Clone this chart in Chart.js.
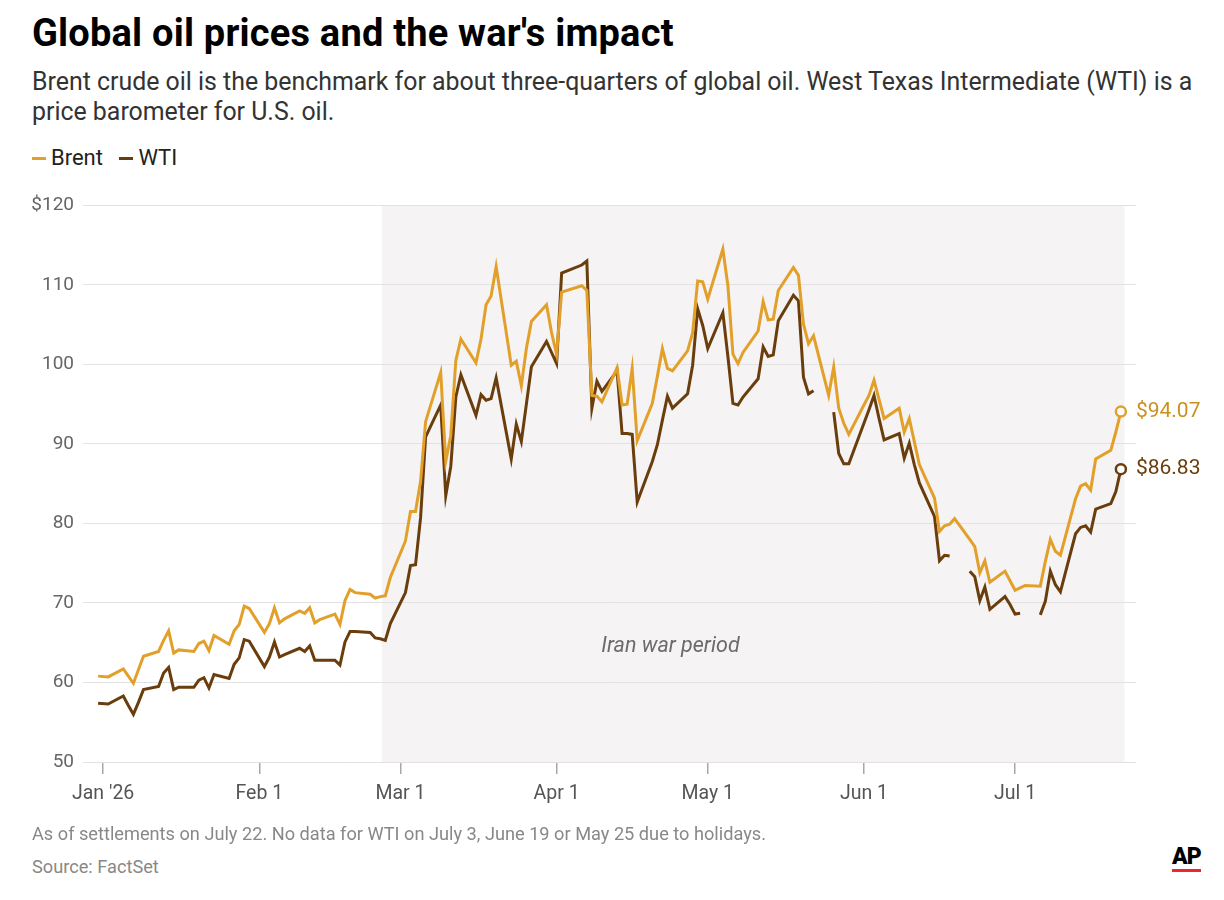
<!DOCTYPE html>
<html>
<head>
<meta charset="utf-8">
<script src="https://cdn.jsdelivr.net/npm/chart.js@4.4.1/dist/chart.umd.min.js"></script>
<style>
  body { margin: 0; background: #fff; font-family: Roboto, "Noto Sans", sans-serif; }
  #page { position: relative; width: 1224px; height: 900px; overflow: hidden; }
  h1 { position: absolute; left: 32px; top: 10px; margin: 0; font-size: 38px; line-height: 46px; font-weight: 700; color: #000; letter-spacing: 0.2px; }
  .sub { position: absolute; left: 32px; top: 67px; margin: 0; font-size: 24.9px; line-height: 30px; color: #333; white-space: nowrap; }
  .legend { position: absolute; left: 32px; top: 145px; font-size: 22px; line-height: 26px; color: #222; white-space: nowrap; }
  .legend span.sw { display: inline-block; width: 14px; height: 3px; vertical-align: middle; margin-right: 5px; position: relative; top: -1px; }
  .legend span.item { margin-right: 11px; }
  #wrap { position: absolute; left: 0; top: 185px; width: 1224px; height: 640px; }
  .foot { position: absolute; left: 32px; font-size: 18.2px; color: #888; white-space: nowrap; }
  .ap { position: absolute; left: 1172px; top: 843px; font-size: 23px; font-weight: 900; color: #000; letter-spacing: -1px; }
  .apline { position: absolute; left: 1172px; top: 869px; width: 29px; height: 3px; background: #f0262e; }
</style>
</head>
<body>
<div id="page">
  <h1>Global oil prices and the war's impact</h1>
  <p class="sub">Brent crude oil is the benchmark for about three-quarters of global oil. West Texas Intermediate (WTI) is a<br>price barometer for U.S. oil.</p>
  <div class="legend">
    <span class="item"><span class="sw" style="background:#e2a02a"></span>Brent</span>
    <span class="item"><span class="sw" style="background:#6a3d0c"></span>WTI</span>
  </div>
  <div id="wrap"><canvas id="oilChart" width="1224" height="640"></canvas></div>
  <div class="foot" style="top:823px">As of settlements on July 22. No data for WTI on July 3, June 19 or May 25 due to holidays.</div>
  <div class="foot" style="top:856px">Source: FactSet</div>
  <div class="ap">AP</div>
  <div class="apline"></div>
</div>

<script>
// trading days (settlements)
const dates = [
  "2025-12-31",
  "2026-01-02","2026-01-05","2026-01-06","2026-01-07","2026-01-08","2026-01-09","2026-01-12","2026-01-13","2026-01-14","2026-01-15","2026-01-16",
  "2026-01-19","2026-01-20","2026-01-21","2026-01-22","2026-01-23","2026-01-26","2026-01-27","2026-01-28","2026-01-29","2026-01-30",
  "2026-02-02","2026-02-03","2026-02-04","2026-02-05","2026-02-06","2026-02-09","2026-02-10","2026-02-11","2026-02-12","2026-02-13",
  "2026-02-16","2026-02-17","2026-02-18","2026-02-19","2026-02-20","2026-02-23","2026-02-24","2026-02-25","2026-02-26","2026-02-27",
  "2026-03-02","2026-03-03","2026-03-04","2026-03-05","2026-03-06","2026-03-09","2026-03-10","2026-03-11","2026-03-12","2026-03-13",
  "2026-03-16","2026-03-17","2026-03-18","2026-03-19","2026-03-20","2026-03-23","2026-03-24","2026-03-25","2026-03-26","2026-03-27","2026-03-30","2026-03-31",
  "2026-04-01","2026-04-02","2026-04-06","2026-04-07","2026-04-08","2026-04-09","2026-04-10","2026-04-13","2026-04-14","2026-04-15","2026-04-16","2026-04-17",
  "2026-04-20","2026-04-21","2026-04-22","2026-04-23","2026-04-24","2026-04-27","2026-04-28","2026-04-29","2026-04-30",
  "2026-05-01","2026-05-04","2026-05-05","2026-05-06","2026-05-07","2026-05-08","2026-05-11","2026-05-12","2026-05-13","2026-05-14","2026-05-15",
  "2026-05-18","2026-05-19","2026-05-20","2026-05-21","2026-05-22","2026-05-25","2026-05-26","2026-05-27","2026-05-28","2026-05-29",
  "2026-06-01","2026-06-02","2026-06-03","2026-06-04","2026-06-05","2026-06-08","2026-06-09","2026-06-10","2026-06-11","2026-06-12",
  "2026-06-15","2026-06-16","2026-06-17","2026-06-18","2026-06-19","2026-06-22","2026-06-23","2026-06-24","2026-06-25","2026-06-26","2026-06-29","2026-06-30",
  "2026-07-01","2026-07-02","2026-07-03","2026-07-06","2026-07-07","2026-07-08","2026-07-09","2026-07-10",
  "2026-07-13","2026-07-14","2026-07-15","2026-07-16","2026-07-17","2026-07-20","2026-07-21","2026-07-22"
];

const brent = [
  60.8,
  60.7, 61.7, 60.8, 59.9, 61.6, 63.3, 63.9, 65.3, 66.5, 63.7, 64.1,
  63.9, 64.9, 65.2, 64.0, 65.9, 64.8, 66.5, 67.3, 69.6, 69.3,
  66.3, 67.4, 69.4, 67.5, 68.0, 69.0, 68.7, 69.4, 67.5, 67.9,
  68.6, 67.3, 70.3, 71.7, 71.3, 71.1, 70.6, 70.8, 70.9, 73.2,
  77.8, 81.5, 81.5, 85.3, 92.8, 99.0, 87.8, 91.1, 100.5, 103.2,
  100.2, 103.2, 107.5, 108.6, 112.3, 99.9, 100.4, 97.3, 102.0, 105.4, 107.5, 104.0,
  101.3, 109.1, 109.9, 109.3, 96.1, 96.0, 95.3, 99.6, 94.9, 95.0, 99.5, 90.4,
  95.1, 98.5, 102.0, 99.5, 99.2, 101.7, 104.0, 110.5, 110.4,
  108.2, 114.5, 109.9, 101.3, 100.1, 101.5, 104.2, 107.9, 105.6, 105.7, 109.3,
  112.2, 111.2, 105.1, 102.6, 103.6, 96.1, 99.7, 94.5, 92.6, 91.2,
  94.9, 96.1, 98.0, 95.6, 93.2, 94.5, 91.5, 93.2, 90.3, 87.4,
  83.2, 79.0, 79.7, 79.9, 80.6, 78.0, 77.1, 73.8, 75.3, 72.6, 74.0, 72.8,
  71.6, 71.9, 72.2, 72.1, 75.2, 78.0, 76.5, 76.0,
  83.1, 84.7, 85.0, 84.2, 88.1, 89.2, 91.5, 94.07
];

// null = no WTI settlement (holiday)
const wti = [
  57.4,
  57.3, 58.3, 57.1, 56.0, 57.5, 59.1, 59.5, 61.2, 61.9, 59.1, 59.4,
  59.4, 60.3, 60.6, 59.3, 61.0, 60.5, 62.3, 63.1, 65.4, 65.2,
  62.0, 63.2, 65.1, 63.2, 63.5, 64.3, 63.9, 64.6, 62.8, 62.8,
  62.8, 62.2, 65.1, 66.4, 66.4, 66.3, 65.6, 65.5, 65.3, 67.4,
  71.3, 74.7, 74.8, 80.7, 90.9, 94.9, 83.5, 87.2, 95.9, 98.7,
  93.6, 96.2, 95.5, 95.7, 98.3, 88.1, 92.5, 90.3, 95.0, 99.7, 102.9, 101.5,
  100.1, 111.5, 112.5, 113.0, 94.5, 97.9, 96.6, 99.2, 91.3, 91.3, 91.2, 82.7,
  87.8, 89.9, 93.0, 96.0, 94.5, 96.3, 99.9, 107.0, 104.9,
  102.0, 106.5, 101.0, 95.1, 94.9, 95.9, 98.2, 102.2, 101.0, 101.2, 105.5,
  108.7, 108.0, 98.4, 96.3, 96.7, null, 94.0, 88.8, 87.5, 87.5,
  92.6, 94.3, 96.1, 93.2, 90.5, 91.3, 88.2, 90.1, 87.4, 85.1,
  80.9, 75.3, 76.0, 75.9, null, 74.0, 73.3, 70.3, 72.0, 69.2, 70.8, 69.8,
  68.6, 68.7, null, 68.5, 70.2, 74.0, 72.3, 71.4,
  78.7, 79.5, 79.7, 78.9, 81.8, 82.5, 84.0, 86.83
];

const monthTicks = ["2026-01-01","2026-02-01","2026-03-01","2026-04-01","2026-05-01","2026-06-01","2026-07-01"];
const monthLabels = ["Jan '26","Feb 1","Mar 1","Apr 1","May 1","Jun 1","Jul 1"];
const yTicks = [50, 60, 70, 80, 90, 100, 110, 120];
const warStart = "2026-02-25";
const warEnd = "2026-07-22";

const BRENT = '#e2a02a';
const WTI = '#6a3d0c';

// days since Jan 1 2026
function dayNum(s) {
  const p = s.split('-').map(Number);
  return (Date.UTC(p[0], p[1] - 1, p[2]) - Date.UTC(2026, 0, 1)) / 86400000;
}

function toPoints(vals) {
  return dates.map((d, i) => ({ x: dayNum(d), y: vals[i] }));
}

const lastIdx = dates.length - 1;

const bandPlugin = {
  id: 'warBand',
  beforeDraw(chart) {
    const { ctx, chartArea, scales } = chart;
    const x0 = scales.x.getPixelForValue(dayNum(warStart) + 0.3);
    const x1 = scales.x.getPixelForValue(dayNum(warEnd) + 0.7);
    ctx.save();
    ctx.fillStyle = '#f5f3f4';
    ctx.fillRect(x0, chartArea.top, x1 - x0, chartArea.bottom - chartArea.top);
    ctx.restore();
  },
  afterDatasetsDraw(chart) {
    const { ctx, scales } = chart;
    ctx.save();
    ctx.font = 'italic 21.5px Roboto, sans-serif';
    ctx.fillStyle = '#6b6b6b';
    ctx.textAlign = 'center';
    ctx.textBaseline = 'middle';
    ctx.fillText('Iran war period', scales.x.getPixelForValue(112.6), scales.y.getPixelForValue(64.5));

    // end labels
    ctx.font = '21px Roboto, sans-serif';
    ctx.textAlign = 'left';
    const cols = ['#c9921f', WTI];
    chart.data.datasets.forEach((ds, i) => {
      const pt = chart.getDatasetMeta(i).data[lastIdx];
      ctx.fillStyle = cols[i];
      ctx.fillText('$' + ds.data[lastIdx].y.toFixed(2), pt.x + 15, pt.y);
    });
    ctx.restore();
  }
};

const endPoint = (ctx) => ctx.dataIndex === lastIdx ? 5 : 0;

new Chart(document.getElementById('oilChart'), {
  type: 'line',
  data: {
    datasets: [
      {
        label: 'Brent',
        data: toPoints(brent),
        borderColor: BRENT,
        borderWidth: 3,
        pointRadius: endPoint,
        pointHoverRadius: endPoint,
        pointBackgroundColor: '#fff',
        pointBorderColor: BRENT,
        pointBorderWidth: 2.5,
        tension: 0,
        spanGaps: false
      },
      {
        label: 'WTI',
        data: toPoints(wti),
        borderColor: WTI,
        borderWidth: 3,
        pointRadius: endPoint,
        pointHoverRadius: endPoint,
        pointBackgroundColor: '#fff',
        pointBorderColor: WTI,
        pointBorderWidth: 2.5,
        tension: 0,
        spanGaps: false
      }
    ]
  },
  options: {
    responsive: false,
    animation: false,
    layout: { padding: { top: 15, right: 88, left: 0, bottom: 0 } },
    plugins: {
      legend: { display: false },
      tooltip: { enabled: false }
    },
    scales: {
      x: {
        type: 'linear',
        min: -4,
        max: 205,
        afterBuildTicks: (scale) => {
          scale.ticks = monthTicks.map(d => ({ value: dayNum(d) }));
        },
        afterFit: (scale) => { scale.height = 63; },
        border: { display: false },
        grid: { drawOnChartArea: false, drawTicks: true, tickLength: 12, color: '#a8a8a8', lineWidth: 1.5 },
        ticks: {
          autoSkip: false,
          maxRotation: 0,
          padding: 8,
          color: '#555',
          font: { family: 'Roboto', size: 19.5 },
          callback: (v) => {
            const i = monthTicks.findIndex(d => dayNum(d) === v);
            return i >= 0 ? monthLabels[i] : '';
          }
        }
      },
      y: {
        min: 50,
        max: 120,
        afterBuildTicks: (scale) => {
          scale.ticks = yTicks.map(v => ({ value: v }));
        },
        afterFit: (scale) => { scale.width = 83; },
        border: { display: false },
        grid: { color: '#e2e2e2', lineWidth: 1, drawTicks: false },
        ticks: {
          padding: 9,
          color: '#666',
          font: { family: 'Roboto', size: 19 },
          callback: (v) => v === 120 ? '$120' : v
        }
      }
    }
  },
  plugins: [bandPlugin]
});
</script>
</body>
</html>
